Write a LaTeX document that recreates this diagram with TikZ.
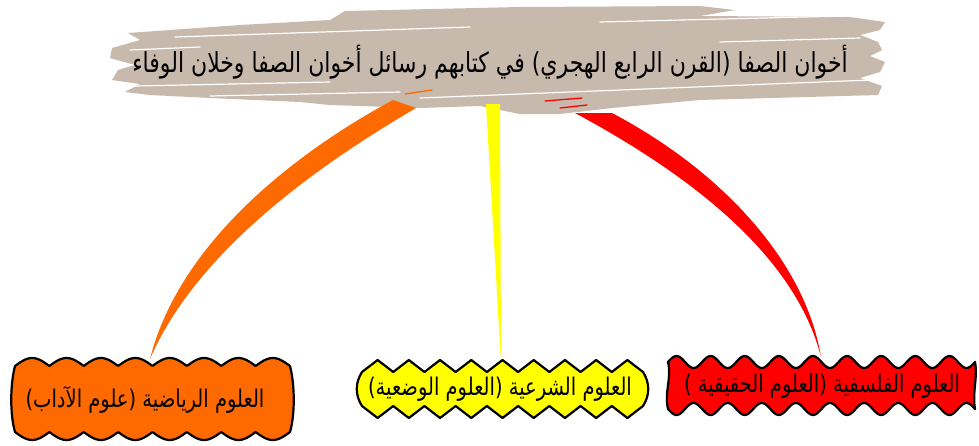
\documentclass[tikz,border=0pt]{standalone}
\usepackage{fontspec}
\usepackage{graphicx}
\newfontfamily\arabicfont[Script=Arabic]{DejaVu Sans}
\TeXXeTstate=1
\definecolor{bannertan}{HTML}{C8B9AD}
\definecolor{orangec}{HTML}{FF6A00}
\definecolor{yellowc}{HTML}{FFFF00}
\definecolor{redc}{HTML}{FF0000}
\newcommand{\tallar}[1]{\scalebox{1}[1.25]{\beginR #1\endR}}
\tikzset{
  boxline/.style={draw=black, line width=2.2pt, line join=round},
  arlabel/.style={font=\arabicfont\fontsize{19.5}{23}\selectfont, inner sep=0pt},
  gapline/.style={draw=white, line width=1.2pt, line cap=round},
}
\begin{document}
\begin{tikzpicture}[x=1pt,y=-1pt]
\useasboundingbox[fill=white] (0,0) rectangle (979,445);

% ---------- banner (brush stroke) ----------
\fill[bannertan] (112,48) -- (140,40) -- (128,33) -- (240,25) -- (330,20) -- (345,11)
  -- (520,7) -- (700,6) -- (735,10) -- (700,16) -- (850,17) -- (885,22) -- (880,30)
  -- (860,35) -- (878,42) -- (882,50) -- (870,56) -- (885,62) -- (880,72) -- (860,78)
  -- (882,86) -- (878,95) -- (700,100) -- (612,108) -- (560,114) -- (520,114)
  -- (480,106) -- (420,108) -- (330,105) -- (300,102) -- (210,98) -- (150,95)
  -- (125,92) -- (140,84) -- (112,80) -- (118,70) -- (135,65) -- (110,58) -- cycle;
\draw[gapline] (175,37) -- (470,27);
\draw[gapline] (600,22) -- (845,16);
\draw[gapline] (130,50) -- (200,47);
\draw[gapline] (720,42) -- (860,38);
\draw[gapline] (135,86) -- (330,82);
\draw[gapline] (420,98) -- (870,80);
\draw[gapline] (210,96) -- (400,92);
% small coloured streaks on the banner
\draw[orangec, line width=1.3pt, line cap=round] (405,94) -- (432,90);
\draw[redc, line width=1.3pt, line cap=round] (545,101) -- (582,98);
\draw[redc, line width=1.3pt, line cap=round] (560,108) -- (587,105);

\node[arlabel, font=\arabicfont\fontsize{22}{26}\selectfont] (title) at (490,62)
  {\tallar{أخوان الصفا (القرن الرابع الهجري) في كتابهم رسائل أخوان الصفا وخلان الوفاء}};

% ---------- connector end points ----------
\coordinate (oa) at (393,100);
\coordinate (ob) at (416,108);
\coordinate (oe) at (150,359);
\coordinate (ya) at (486,104);
\coordinate (yb) at (500,104);
\coordinate (ye) at (501,362);
\coordinate (ra) at (575,113);
\coordinate (rb) at (612,113);
\coordinate (re) at (821,357);

% ---------- connectors (tapered) ----------
\fill[orangec] (oa) .. controls (300,150) and (180,240) .. (oe)
  .. controls (195,255) and (310,170) .. (ob) -- cycle;
\fill[yellowc] (ya) -- (ye) -- (yb) -- cycle;
\fill[redc] (ra) .. controls (690,175) and (795,255) .. (re)
  .. controls (805,260) and (720,170) .. (rb) -- cycle;

% ---------- orange scalloped box ----------
\filldraw[fill=orangec, boxline]
  plot[domain=15:290, samples=200] (\x,{366-8*abs(sin(5.23636*(\x-15)))})
  .. controls (295,385) and (295,415) .. (290,432)
  -- plot[domain=290:15, samples=200] (\x,{432+8*abs(sin(5.23636*(\x-15)))})
  .. controls (10,415) and (10,385) .. (15,366) -- cycle;
\node[arlabel] (maths) at (145,400) {\tallar{العلوم الرياضية (علوم الآداب)}};

% ---------- yellow zigzag box ----------
\filldraw[fill=yellowc, boxline]
  plot[domain=362:643, samples=19] (\x,{372-12*(1-abs(2*mod((\x-362)/31.2222+0.0001,1)-1))})
  .. controls (650,383) and (650,395) .. (643,406)
  -- plot[domain=643:362, samples=19] (\x,{406+12*(1-abs(2*mod((\x-362)/31.2222+0.0001,1)-1))})
  .. controls (355,395) and (355,383) .. (362,372) -- cycle;
\node[arlabel] (sharia) at (500,389) {\tallar{العلوم الشرعية (العلوم الوضعية)}};

% ---------- red wavy box ----------
\filldraw[fill=redc, boxline]
  plot[domain=668:975, samples=200] (\x,{362-6*sin(10.554*(\x-668))})
  .. controls (978,378) and (972,392) .. (975,409)
  -- plot[domain=975:668, samples=200] (\x,{409+6*sin(10.554*(\x-668))})
  .. controls (664,392) and (672,378) .. (668,362) -- cycle;
\node[arlabel] (philo) at (822,386) {\tallar{العلوم الفلسفية (العلوم الحقيقية )}};
\end{tikzpicture}
\end{document}
